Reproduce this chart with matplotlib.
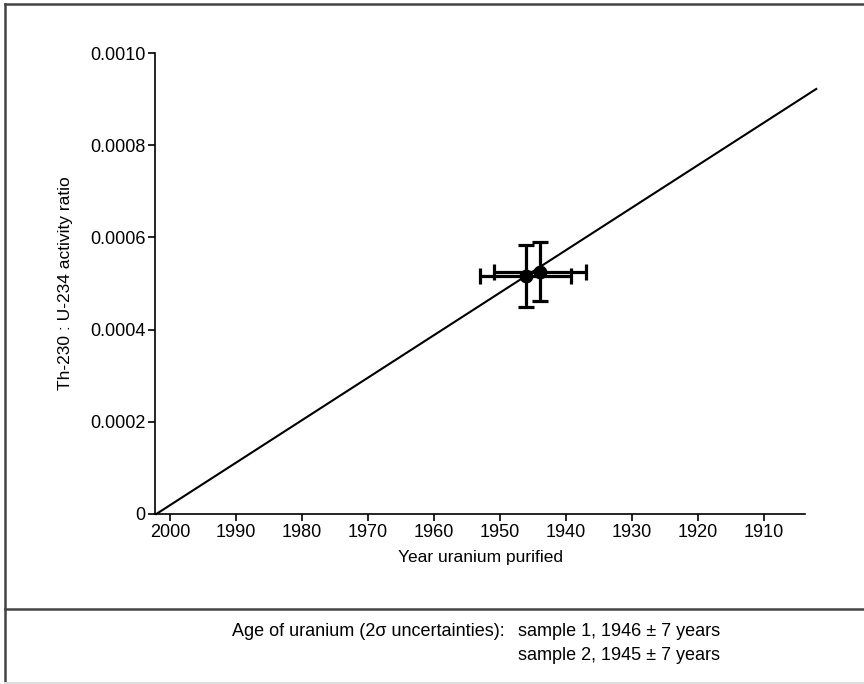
import matplotlib
matplotlib.use("Agg")
import matplotlib.pyplot as plt
from matplotlib.lines import Line2D

plt.rcParams['font.family'] = ['Liberation Sans', 'DejaVu Sans']

# Data
line_years = [2002.1, 1902.1]
line_ratio = [0.0, 0.000922]

sample_years = [1946.1, 1944.0]
sample_ratio = [0.000516, 0.000526]
year_err = [6.9, 7.0]
ratio_err = [0.000067, 0.000063]

xticks = [2000, 1990, 1980, 1970, 1960, 1950, 1940, 1930, 1920, 1910]
yticks = [0, 0.0002, 0.0004, 0.0006, 0.0008, 0.0010]
ytick_labels = ["0", "0.0002", "0.0004", "0.0006", "0.0008", "0.0010"]

W, H = 864, 684
fig = plt.figure(figsize=(W / 100, H / 100), dpi=100)

ax = fig.add_axes([155 / W, (H - 514) / H, (805 - 155) / W, (514 - 53) / H])
ax.set_xlim(2002.3, 1903.8)
ax.set_ylim(0, 0.001)

ax.plot(line_years, line_ratio, color='black', lw=1.5, clip_on=False, zorder=2)
ax.errorbar(sample_years, sample_ratio, xerr=year_err, yerr=ratio_err,
            fmt='o', color='black', ms=9, elinewidth=2.3, capsize=6,
            capthick=2.3, clip_on=False, zorder=3)

for s in ['top', 'right']:
    ax.spines[s].set_visible(False)
for s in ['left', 'bottom']:
    ax.spines[s].set_linewidth(1.2)

ax.set_xticks(xticks)
ax.set_xticklabels([str(x) for x in xticks])
ax.set_yticks(yticks)
ax.set_yticklabels(ytick_labels)
ax.tick_params(axis='both', direction='out', length=5, width=1.2,
               labelsize=13, colors='black', pad=2)

ax.set_xlabel("Year uranium purified", fontsize=12.5, labelpad=7)
ax.set_ylabel("Th-230 : U-234 activity ratio", fontsize=12.5, labelpad=12)

# Outer frame
frame_color = '#444444'
fig.add_artist(Line2D([5 / W, 5 / W], [0, 1 - 4 / H], transform=fig.transFigure,
                      color=frame_color, lw=1.8))
fig.add_artist(Line2D([5 / W, 1], [1 - 4 / H, 1 - 4 / H], transform=fig.transFigure,
                      color=frame_color, lw=1.8))
fig.add_artist(Line2D([5 / W, 1], [1 - 609 / H, 1 - 609 / H], transform=fig.transFigure,
                      color=frame_color, lw=1.8))
fig.add_artist(Line2D([5 / W, 1], [1 - 683 / H, 1 - 683 / H], transform=fig.transFigure,
                      color='#dddddd', lw=1.5))

fig.text(505 / W, 1 - 632 / H, "Age of uranium (2σ uncertainties):",
         ha='right', va='center', fontsize=13)
fig.text(518 / W, 1 - 632 / H, "sample 1, 1946 ± 7 years",
         ha='left', va='center', fontsize=13)
fig.text(518 / W, 1 - 656 / H, "sample 2, 1945 ± 7 years",
         ha='left', va='center', fontsize=13)

fig.savefig("out.png", dpi=100)
